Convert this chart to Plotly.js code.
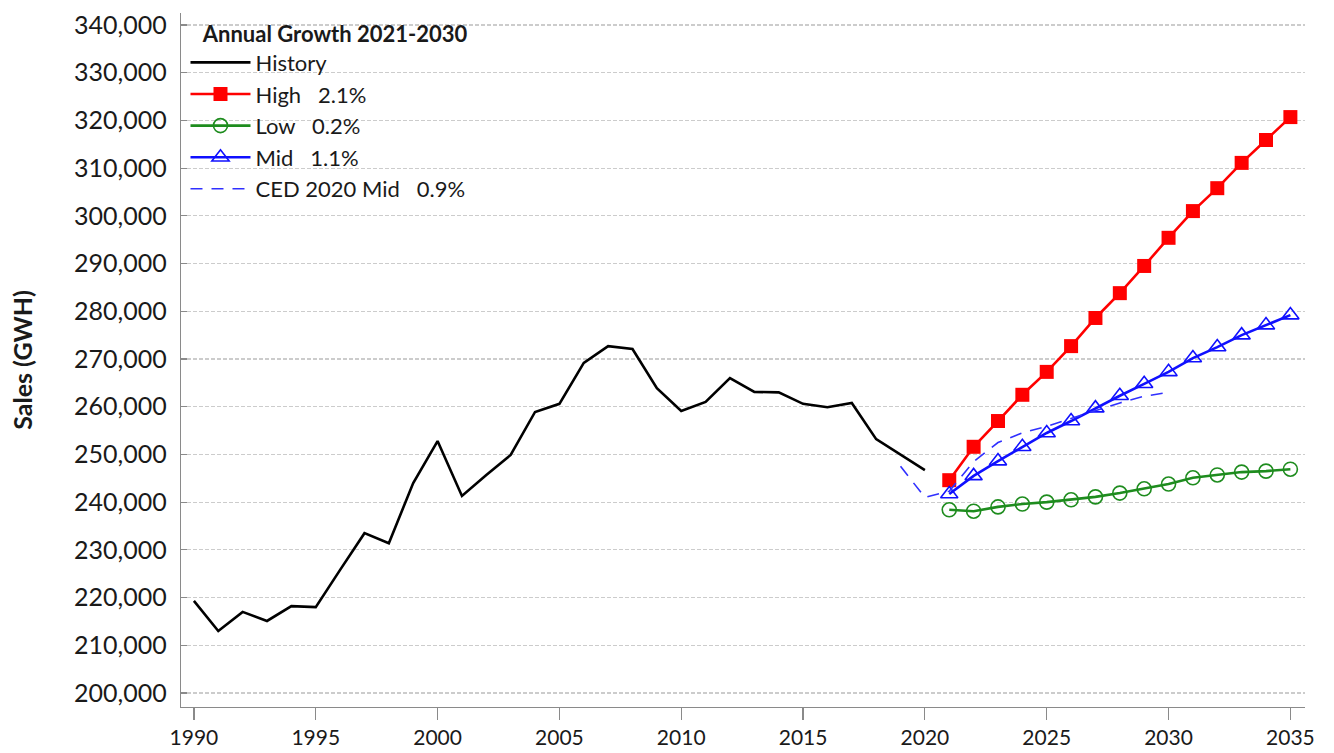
<!DOCTYPE html>
<html>
<head>
<meta charset="utf-8">
<script src="https://cdn.plot.ly/plotly-3.0.1.min.js"></script>
<style>html,body{margin:0;padding:0;background:#fff;}#chart{width:1334px;height:753px;}</style>
</head>
<body>
<div id="chart"></div>
<script>
const historyYears = [1990,1991,1992,1993,1994,1995,1996,1997,1998,1999,2000,2001,2002,2003,2004,2005,2006,2007,2008,2009,2010,2011,2012,2013,2014,2015,2016,2017,2018,2019,2020];
const historyValues = [219300,213000,217000,215100,218200,218000,225800,233500,231400,244000,252800,241300,245700,249900,258900,260600,269200,272700,272100,263900,259100,261000,266000,263100,263000,260600,259900,260800,253200,249900,246700];

const forecastYears = [2021,2022,2023,2024,2025,2026,2027,2028,2029,2030,2031,2032,2033,2034,2035];
const highValues = [244600,251600,257000,262500,267300,272700,278600,283800,289500,295400,301000,305800,311100,315900,320700];
const lowValues = [238400,238100,239000,239600,240000,240500,241100,241900,242800,243800,245100,245700,246300,246500,246900];
const midValues = [241700,245500,248600,251600,254500,257000,259700,262300,264800,267300,270200,272500,275000,277100,279200];

const cedYears = [2019,2020,2021,2022,2023,2024,2025,2026,2027,2028,2029,2030];
const cedValues = [247500,241000,242300,248500,252500,254500,255900,257500,259200,260800,262200,263000];

const seriesNames = ["History", "High\u00a0\u00a0\u00a02.1%", "Low\u00a0\u00a0\u00a00.2%", "Mid\u00a0\u00a0\u00a01.1%", "CED 2020 Mid\u00a0\u00a0\u00a00.9%"];
const legendTitle = "Annual Growth 2021-2030";
const yTickVals = [200000,210000,220000,230000,240000,250000,260000,270000,280000,290000,300000,310000,320000,330000,340000];
const xTickVals = [1990,1995,2000,2005,2010,2015,2020,2025,2030,2035];

const FONT = "Lato, 'Open Sans', 'DejaVu Sans', sans-serif";

const traces = [
  {x: historyYears, y: historyValues, name: seriesNames[0], mode: "lines",
   line: {color: "#000000", width: 2.6}},
  {x: forecastYears, y: highValues, name: seriesNames[1], mode: "lines+markers",
   line: {color: "#ff0000", width: 2.6},
   marker: {symbol: "square", size: 14, color: "#ff0000"}},
  {x: forecastYears, y: lowValues, name: seriesNames[2], mode: "lines+markers",
   line: {color: "#1e8c1e", width: 2.6},
   marker: {symbol: "circle-open", size: 14, color: "#1e8c1e", line: {width: 1.6}}},
  {x: forecastYears, y: midValues, name: seriesNames[3], mode: "lines+markers",
   line: {color: "#1010ff", width: 2.6},
   marker: {symbol: "triangle-up-open", size: 15, color: "#1010ff", line: {width: 1.6}}},
  {x: cedYears, y: cedValues, name: seriesNames[4], mode: "lines",
   line: {color: "#3030ff", width: 1.6, dash: "12px,9px"}}
];

const layout = {
  width: 1334, height: 753,
  margin: {l: 181, r: 29, t: 13, b: 46},
  paper_bgcolor: "#ffffff", plot_bgcolor: "#ffffff",
  font: {family: FONT, color: "#1a1a1a"},
  showlegend: true,
  legend: {
    x: 0.004, y: 1.0, xanchor: "left", yanchor: "top",
    bgcolor: "rgba(255,255,255,0)",
    font: {family: FONT, size: 22, color: "#1a1a1a"},
    title: {text: "<b>\u00a0\u00a0\u00a0" + legendTitle + "</b>", side: "top", font: {family: FONT, size: 22, color: "#1a1a1a"}},
    tracegroupgap: 0,
    itemwidth: 60
  },
  xaxis: {
    range: [1989.47, 2035.6],
    tickvals: xTickVals,
    ticks: "outside", ticklen: 12, tickwidth: 1.2, tickcolor: "#8a8a8a",
    showline: true, linecolor: "#8a8a8a", linewidth: 1.2,
    showgrid: false, zeroline: false,
    tickfont: {family: FONT, size: 21, color: "#1a1a1a"}
  },
  yaxis: {
    range: [197066, 342515],
    tickvals: yTickVals,
    tickformat: ",d",
    ticks: "inside", ticklen: 6, tickwidth: 1.2, tickcolor: "#8a8a8a",
    showline: true, linecolor: "#8a8a8a", linewidth: 1.2,
    showgrid: true, gridcolor: "#cccccc", gridwidth: 1.2, griddash: "4px,2px",
    zeroline: false,
    ticklabelstandoff: 8,
    tickfont: {family: FONT, size: 25, color: "#1a1a1a"},
    title: {text: "<b>Sales (GWH)</b>", font: {family: FONT, size: 25, color: "#1a1a1a"}, standoff: 34}
  }
};

Plotly.newPlot("chart", traces, layout, {displayModeBar: false, staticPlot: true});
</script>
</body>
</html>
